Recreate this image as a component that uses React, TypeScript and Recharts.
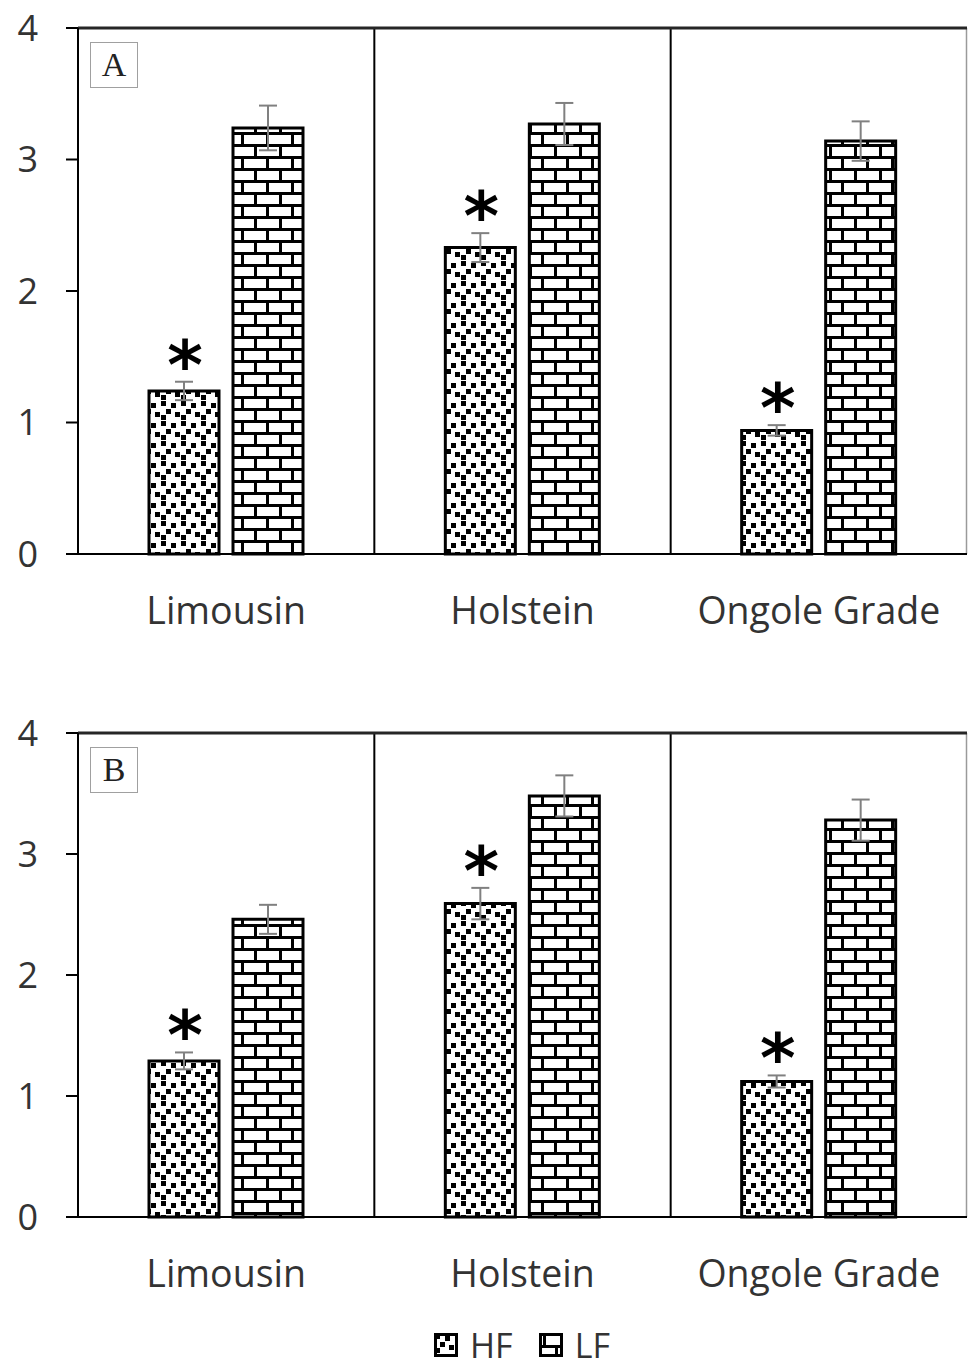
import React from 'react';
import { BarChart, Bar, XAxis, YAxis, CartesianGrid, ErrorBar, LabelList, ReferenceLine, Legend } from 'recharts';

const categories = ['Limousin', 'Holstein', 'Ongole Grade'];
const hfA = [1.24, 2.33, 0.94];
const hfErrA = [0.07, 0.11, 0.04];
const lfA = [3.24, 3.27, 3.14];
const lfErrA = [0.17, 0.16, 0.15];
const hfB = [1.29, 2.59, 1.12];
const hfErrB = [0.07, 0.13, 0.05];
const lfB = [2.46, 3.48, 3.28];
const lfErrB = [0.12, 0.17, 0.17];
const sigA = [true, true, true];
const sigB = [true, true, true];
const yTicks = [0, 1, 2, 3, 4];
const seriesNames = ['HF', 'LF'];

const FONT = "'Open Sans', 'Noto Sans', sans-serif";
const TEXT = '#333333';

const buildData = (hf: number[], hfErr: number[], lf: number[], lfErr: number[], sig: boolean[]) =>
  categories.map((c, i) => ({ name: c, HF: hf[i], hfErr: hfErr[i], LF: lf[i], lfErr: lfErr[i], sig: sig[i] }));

const dataA = buildData(hfA, hfErrA, lfA, lfErrA, sigA);
const dataB = buildData(hfB, hfErrB, lfB, lfErrB, sigB);

const Patterns = ({ p }: { p: string }) => (
  <defs>
    <pattern id={`${p}hf`} patternUnits="userSpaceOnUse" width="20" height="20">
      <rect width="20" height="20" fill="#fff" />
      <rect x="1" y="1" width="5" height="5" fill="#000" />
      <rect x="11" y="3" width="5" height="5" fill="#000" />
      <rect x="6" y="9" width="5" height="5" fill="#000" />
      <rect x="15" y="12" width="5" height="5" fill="#000" />
      <rect x="1" y="15" width="5" height="5" fill="#000" />
    </pattern>
    <pattern id={`${p}lf`} patternUnits="userSpaceOnUse" width="25" height="24">
      <rect width="25" height="24" fill="#fff" />
      <rect x="0" y="0" width="25" height="3" fill="#000" />
      <rect x="0" y="12" width="25" height="3" fill="#000" />
      <rect x="4" y="0" width="3" height="12" fill="#000" />
      <rect x="16" y="12" width="3" height="12" fill="#000" />
    </pattern>
  </defs>
);

const makeStar = (errs: number[], vals: number[], sig: boolean[]) => (props: any) => {
  const { x, y, width, height, index } = props;
  if (!sig[index]) return null;
  const ppu = height / vals[index];
  const top = y - errs[index] * ppu;
  return (
    <text x={x + width / 2 + 1} y={top + 7} textAnchor="middle" fontSize={68} fontWeight="bold" fontFamily="'DejaVu Sans', sans-serif" fill="#000">
      *
    </text>
  );
};

const dividerGen = (props: any) => {
  const { offset } = props;
  const left = offset.left;
  const w = offset.width;
  return categories.slice(1).map((_, i) => left + (w * (i + 1)) / categories.length);
};
const rightGen = (props: any) => {
  const { offset } = props;
  return [offset.left + offset.width - 0.5];
};

const LegendContent = () => (
  <div style={{ height: 66, display: 'flex', justifyContent: 'center', alignItems: 'flex-end', fontFamily: FONT, fontSize: 34, color: TEXT, lineHeight: '34px', paddingLeft: 76, paddingBottom: 7, boxSizing: 'border-box' }}>
    {seriesNames.map((n, i) => (
      <div key={n} style={{ display: 'flex', alignItems: 'center', marginRight: i === 0 ? 26 : 0 }}>
        <svg width={24} height={24} style={{ marginRight: 12 }}>
          <Patterns p="lg" />
          <rect x={1.5} y={1.5} width={21} height={21} fill={`url(#lg${i === 0 ? 'hf' : 'lf'})`} stroke="#000" strokeWidth={3} />
        </svg>
        <span>{n}</span>
      </div>
    ))}
  </div>
);

const Panel = ({ data, hf, hfErr, lf, sig, id, height, top, showLegend }: any) => (
  <BarChart
    width={968}
    height={height}
    data={data}
    margin={{ top, right: 1, bottom: 0, left: 1 }}
    barSize={70}
    barGap={14}
  >
    <Patterns p={id} />
    <CartesianGrid horizontal={false} vertical verticalCoordinatesGenerator={dividerGen} stroke="#000" strokeWidth={2} />
    <CartesianGrid horizontal={false} vertical verticalCoordinatesGenerator={rightGen} stroke="#9a9a9a" strokeWidth={1.5} />
    <XAxis
      dataKey="name"
      tickLine={false}
      axisLine={{ stroke: '#000', strokeWidth: 2 }}
      height={86}
      tickMargin={37}
      tick={{ fontFamily: FONT, fontSize: 37.5, fill: TEXT }}
      interval={0}
    />
    <YAxis
      domain={[0, 4]}
      ticks={yTicks}
      width={77}
      tickSize={12}
      tickMargin={28}
      axisLine={{ stroke: '#000', strokeWidth: 2 }}
      tickLine={{ stroke: '#000', strokeWidth: 2 }}
      tick={{ fontFamily: FONT, fontSize: 36, fill: TEXT }}
    />
    <ReferenceLine y={4} stroke="#262626" strokeWidth={3} />
    <Bar dataKey="HF" name="HF" fill={`url(#${id}hf)`} stroke="#000" strokeWidth={3} isAnimationActive={false}>
      <ErrorBar dataKey="hfErr" width={9} stroke="#808080" strokeWidth={2} direction="y" />
      <LabelList dataKey="HF" content={makeStar(hfErr, hf, sig)} />
    </Bar>
    <Bar dataKey="LF" name="LF" fill={`url(#${id}lf)`} stroke="#000" strokeWidth={3} isAnimationActive={false}>
      <ErrorBar dataKey="lfErr" width={9} stroke="#808080" strokeWidth={2} direction="y" />
    </Bar>
    {showLegend && <Legend verticalAlign="bottom" content={<LegendContent />} />}
  </BarChart>
);

const Box = ({ label, left, top }: any) => (
  <div
    style={{
      position: 'absolute',
      left,
      top,
      width: 48,
      height: 46,
      border: '1.5px solid #a0a0a0',
      boxSizing: 'border-box',
      fontFamily: "'Liberation Serif', serif",
      fontSize: 34,
      color: '#222',
      display: 'flex',
      alignItems: 'center',
      justifyContent: 'center',
      background: '#fff',
    }}
  >
    {label}
  </div>
);

export default function App() {
  return (
    <div style={{ position: 'absolute', left: 0, top: 0, width: 968, height: 1369, background: '#fff', overflow: 'hidden' }}>
      <div style={{ position: 'absolute', left: 0, top: 0 }}>
        <Panel data={dataA} hf={hfA} hfErr={hfErrA} lf={lfA} sig={sigA} id="a" height={640} top={28} showLegend={false} />
      </div>
      <div style={{ position: 'absolute', left: 0, top: 660 }}>
        <Panel data={dataB} hf={hfB} hfErr={hfErrB} lf={lfB} sig={sigB} id="b" height={709} top={73} showLegend />
      </div>
      <Box label="A" left={90} top={42} />
      <Box label="B" left={90} top={747} />
    </div>
  );
}
